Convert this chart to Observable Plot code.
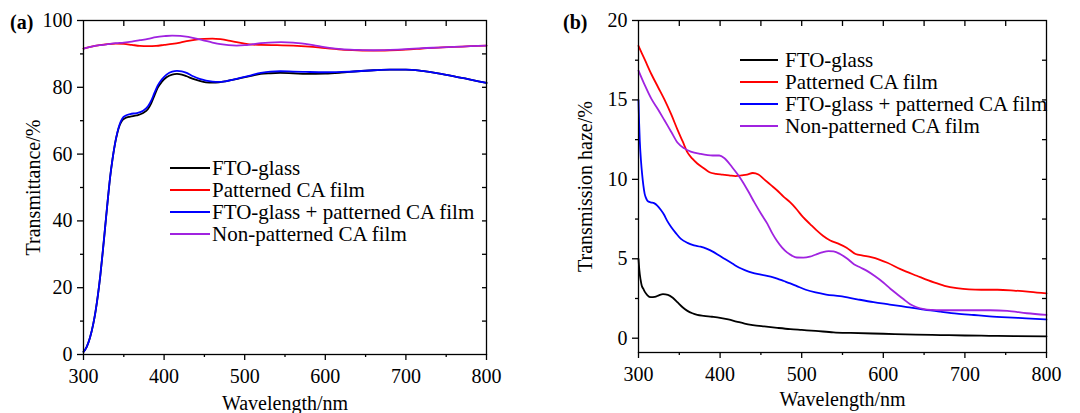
<!DOCTYPE html>
<html>
<head>
<meta charset="utf-8">
<script src="https://cdn.jsdelivr.net/npm/d3@7"></script>
<script src="https://cdn.jsdelivr.net/npm/@observablehq/plot@0.6"></script>
<style>
  html, body { margin: 0; padding: 0; background: #fff; }
  #wrap { position: relative; width: 1080px; height: 413px; overflow: hidden; font-family: "Liberation Serif", "Times New Roman", serif; color: #000; }
  .panel { position: absolute; top: 0; width: 540px; height: 413px; }
  .plabel { position: absolute; font-weight: bold; font-size: 20px; line-height: 20px; }
  .legend { position: absolute; font-size: 21px; }
  .legend .row { display: flex; align-items: center; height: 22px; white-space: nowrap; }
  .legend .sw { display: inline-block; height: 2px; }
</style>
</head>
<body>
<div id="wrap"></div>
<script>
// ---------- Data ----------
const series = ["FTO-glass", "Patterned CA film", "FTO-glass + patterned CA film", "Non-patterned CA film"];
const colors = ["#000000", "#ff0000", "#0000ff", "#a023e0"];

const xMajor = [300, 400, 500, 600, 700, 800];
const xMinor = [350, 450, 550, 650, 750];
const yTicksA = [0, 20, 40, 60, 80, 100];
const yMinorA = [10, 30, 50, 70, 90];
const yTicksB = [0, 5, 10, 15, 20];
const yMinorB = [2.5, 7.5, 12.5, 17.5];

// (a) Transmittance /%
const aFTO = [[300,0.8],[304,2.3],[308,5],[312,9],[315,13],[318,18],[321,24],[324,31],[327,38.5],[330,46],[333,53],[336,58.5],[339,63],[342,66.3],[345,68.7],[348,70.1],[352,70.8],[358,71.2],[366,71.6],[374,72.3],[380,73.5],[384,75.2],[388,77.5],[392,79.8],[397,81.6],[403,83],[410,83.8],[416,84],[422,83.8],[428,83.3],[436,82.5],[444,81.9],[452,81.5],[460,81.4],[468,81.5],[476,81.8],[486,82.3],[496,82.8],[508,83.4],[520,84],[532,84.2],[544,84.3],[560,84.2],[576,84],[600,84.1],[620,84.4],[640,84.8],[660,85.1],[680,85.3],[700,85.3],[720,84.9],[740,84.2],[760,83.3],[780,82.3],[800,81.3]];
const aPat = [[300,91.6],[310,92.2],[320,92.6],[330,92.9],[340,93.1],[350,93],[360,92.7],[370,92.4],[380,92.3],[390,92.4],[400,92.7],[410,93],[420,93.4],[430,93.9],[440,94.3],[450,94.5],[460,94.6],[470,94.4],[480,94],[490,93.5],[500,93.1],[510,92.8],[520,92.7],[540,92.6],[560,92.5],[580,92.2],[600,91.7],[620,91.3],[640,91.1],[660,91],[680,91.1],[700,91.3],[720,91.6],[740,91.9],[760,92.1],[780,92.3],[800,92.5]];
const aFTOPat = [[300,0.8],[304,2.3],[308,5],[312,9],[315,13],[318,18],[321,24],[324,31],[327,38.5],[330,46],[333,53],[336,58.5],[339,63],[342,66.5],[345,69],[348,70.6],[352,71.5],[358,72],[366,72.3],[374,73],[380,74.3],[384,76],[388,78.3],[392,80.5],[397,82.3],[403,83.8],[410,84.7],[416,84.9],[422,84.8],[428,84.3],[436,83.3],[444,82.5],[452,82],[460,81.7],[468,81.6],[476,81.8],[486,82.3],[496,82.9],[508,83.6],[520,84.3],[532,84.7],[544,84.8],[560,84.7],[576,84.6],[600,84.5],[620,84.6],[640,84.8],[660,85.1],[680,85.3],[700,85.3],[720,84.9],[740,84.2],[760,83.3],[780,82.3],[800,81.3]];
const aNonPat = [[300,91.6],[310,92.2],[320,92.6],[330,92.9],[340,93.2],[350,93.4],[360,93.7],[370,94.1],[380,94.5],[390,95],[400,95.3],[410,95.5],[420,95.4],[430,95.1],[440,94.6],[450,94],[460,93.4],[470,92.9],[480,92.6],[490,92.5],[500,92.6],[510,92.9],[520,93.2],[530,93.4],[545,93.5],[560,93.4],[575,93],[590,92.4],[605,91.8],[620,91.4],[640,91.2],[660,91.1],[680,91.2],[700,91.4],[720,91.7],[740,91.9],[760,92.1],[780,92.3],[800,92.5]];

// (b) Transmission haze /%
const bFTO = [[300,5],[301,4.3],[302.5,3.7],[304,3.3],[306,3.1],[308,2.9],[311,2.7],[315,2.58],[320,2.6],[325,2.7],[330,2.77],[336,2.73],[342,2.55],[348,2.25],[354,1.95],[360,1.72],[366,1.57],[372,1.47],[380,1.41],[390,1.35],[400,1.28],[410,1.18],[420,1.05],[430,0.92],[440,0.83],[454,0.74],[470,0.65],[486,0.57],[500,0.52],[517,0.46],[539,0.37],[560,0.33],[600,0.28],[640,0.23],[670,0.2],[700,0.17],[730,0.15],[760,0.13],[800,0.12]];
const bPat = [[300,18.4],[308,17.5],[316,16.6],[324,15.8],[332,15],[340,14.1],[348,13.1],[354,12.4],[360,11.7],[366,11.3],[372,11],[380,10.7],[387,10.45],[395,10.35],[403,10.3],[411,10.25],[419,10.2],[426,10.25],[433,10.3],[440,10.4],[447,10.3],[454,10],[462,9.65],[470,9.3],[478,8.9],[486,8.55],[494,8.1],[502,7.6],[510,7.2],[518,6.8],[526,6.45],[535,6.15],[545,5.95],[555,5.7],[566,5.3],[575,5.2],[585,5.1],[595,4.95],[605,4.75],[621,4.35],[641,3.93],[662,3.51],[675,3.3],[690,3.15],[705,3.07],[720,3.05],[740,3.05],[760,3],[780,2.92],[800,2.82]];
const bFTOPat = [[300,15],[300.8,13.5],[301.6,12.4],[303,11.2],[304.5,10.3],[306,9.6],[307.5,9.1],[309,8.85],[311,8.65],[315,8.55],[319,8.5],[323,8.35],[327,8.1],[331,7.8],[335,7.4],[340,7],[346,6.6],[352,6.25],[360,6],[368,5.85],[376,5.76],[384,5.62],[391,5.45],[399,5.2],[407,4.95],[415,4.7],[423,4.45],[431,4.27],[439,4.13],[450,4],[462,3.87],[470,3.75],[478,3.6],[486,3.45],[494,3.28],[505,3.05],[517,2.88],[530,2.75],[547,2.65],[568,2.45],[588,2.27],[608,2.12],[629,1.96],[650,1.8],[670,1.67],[690,1.55],[711,1.46],[730,1.38],[752,1.31],[775,1.25],[800,1.18]];
const bNonPat = [[300,16.85],[308,15.9],[316,15.05],[324,14.4],[332,13.7],[340,13],[348,12.3],[356,11.95],[364,11.75],[376,11.6],[391,11.5],[399,11.5],[405,11.35],[415,10.75],[421,10.35],[427,9.9],[435,9.2],[442,8.55],[450,7.85],[458,7.2],[464,6.6],[470,6.1],[476,5.7],[482,5.4],[488,5.2],[494,5.08],[502,5.07],[510,5.13],[518,5.28],[525,5.4],[533,5.48],[539,5.46],[547,5.3],[556,5],[564,4.66],[572,4.45],[580,4.24],[590,3.9],[600,3.51],[609,3.1],[617,2.77],[625,2.45],[633,2.14],[641,1.95],[650,1.83],[660,1.78],[670,1.76],[700,1.76],[731,1.76],[752,1.72],[776,1.57],[800,1.47]];

const panelA = [aFTO, aPat, aFTOPat, aNonPat];
const panelB = [bFTO, bPat, bFTOPat, bNonPat];

// ---------- Drawing ----------
const FONT = "Liberation Serif, Times New Roman, serif";
const wrap = document.getElementById("wrap");

function makePanel(cfg) {
  const blank = () => "";
  // draw order: black, red, blue, purple
  const lines = [0, 1, 2, 3].map(i =>
    Plot.line(cfg.data[i], {x: d => d[0], y: d => d[1], stroke: colors[i], strokeWidth: 1.8, curve: "monotone-x"})
  );
  return Plot.plot({
    width: 540,
    height: 413,
    marginLeft: cfg.ml, marginRight: cfg.mr, marginTop: 20, marginBottom: cfg.mb,
    style: {fontFamily: FONT, fontSize: "20px", color: "#000", background: "transparent", overflow: "visible"},
    x: {domain: [300, 800]},
    y: {domain: cfg.ydom},
    marks: [
      ...lines,
      Plot.frame({stroke: "#000", strokeWidth: 1.3}),
      Plot.axisX({anchor: "bottom", ticks: xMajor, tickSize: 6, tickPadding: 8, tickFormat: d => String(d),
        fontSize: 20, fontFamily: FONT, strokeWidth: 1.3,
        label: "Wavelength/nm", labelAnchor: "center", labelOffset: cfg.xlo, labelArrow: "none"}),
      Plot.axisX({anchor: "bottom", ticks: xMinor, tickSize: 3, tickFormat: blank, label: null, strokeWidth: 1.3}),
      Plot.axisX({anchor: "top", ticks: xMinor.concat(xMajor.slice(1, -1)), tickSize: -5, tickFormat: blank, label: null, strokeWidth: 1.3}),
      Plot.axisY({anchor: "left", ticks: cfg.yt, tickSize: 6, tickPadding: 5, tickFormat: d => String(d),
        fontSize: 20, fontFamily: FONT, strokeWidth: 1.3,
        label: cfg.ylabel, labelAnchor: "center", labelOffset: cfg.ylo, labelArrow: "none"}),
      Plot.axisY({anchor: "left", ticks: cfg.ym, tickSize: 3, tickFormat: blank, label: null, strokeWidth: 1.3}),
      Plot.axisY({anchor: "right", ticks: cfg.ym.concat(cfg.yt.slice(1, -1)), tickSize: -5, tickFormat: blank, label: null, strokeWidth: 1.3})
    ]
  });
}

function addPanel(left, cfg) {
  const div = document.createElement("div");
  div.className = "panel";
  div.style.left = left + "px";
  div.appendChild(makePanel(cfg));
  const lab = document.createElement("div");
  lab.className = "plabel";
  lab.textContent = cfg.tag;
  lab.style.left = cfg.tagX + "px";
  lab.style.top = "12px";
  div.appendChild(lab);
  const leg = document.createElement("div");
  leg.className = "legend";
  leg.style.left = cfg.legX + "px";
  leg.style.top = cfg.legY + "px";
  series.forEach((name, i) => {
    const row = document.createElement("div");
    row.className = "row";
    const sw = document.createElement("span");
    sw.className = "sw";
    sw.style.width = cfg.swW + "px";
    sw.style.marginRight = cfg.gap + "px";
    sw.style.background = colors[i];
    row.appendChild(sw);
    const t = document.createElement("span");
    t.textContent = name;
    row.appendChild(t);
    leg.appendChild(row);
  });
  div.appendChild(leg);
  wrap.appendChild(div);
}

addPanel(0, {
  data: panelA, ydom: [0, 100], yt: yTicksA, ym: yMinorA,
  ml: 83, mr: 54, mb: 59, ylabel: "Transmittance/%", ylo: 58, xlo: 55,
  tag: "(a)", tagX: 10, legX: 170, legY: 157, swW: 40, gap: 2
});
addPanel(540, {
  data: panelB, ydom: [-0.9, 20], yt: yTicksB, ym: yMinorB,
  ml: 98, mr: 34, mb: 61, ylabel: "Transmission haze/%", ylo: 61, xlo: 53,
  tag: "(b)", tagX: 23, legX: 200, legY: 49, swW: 38, gap: 7
});
</script>
</body>
</html>
